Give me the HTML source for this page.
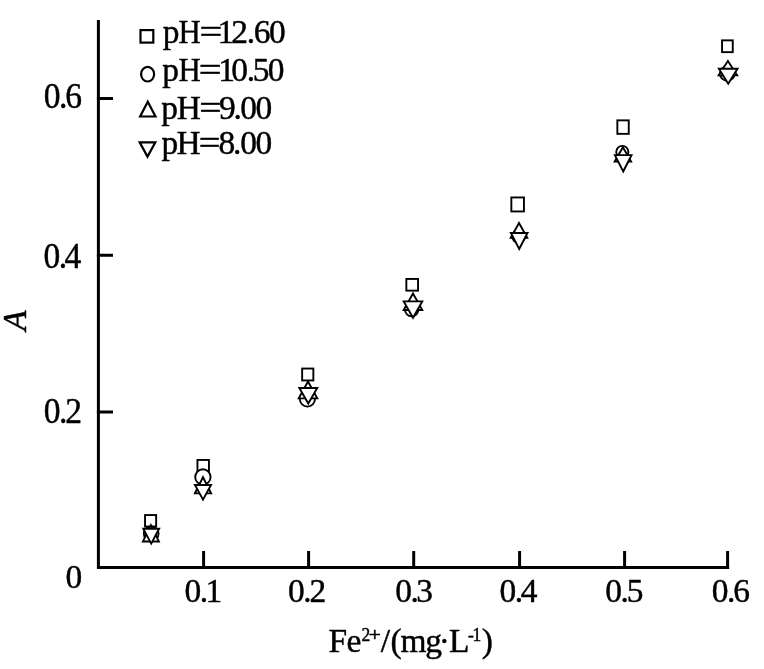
<!DOCTYPE html>
<html lang="en">
<head>
<meta charset="utf-8">
<title>A vs Fe2+ at different pH</title>
<style>
html,body{margin:0;padding:0;background:#fff;}
body{width:764px;height:669px;overflow:hidden;font-family:"Liberation Serif", serif;}
svg{display:block;}
</style>
</head>
<body>
<svg width="764" height="669" viewBox="0 0 764 669">
<rect width="764" height="669" fill="#fff"/>
<path d="M98.4 20V567.4H729.1" fill="none" stroke="#000" stroke-width="3"/>
<path d="M203.6 551V568.9M308.6 551V568.9M413.7 551V568.9M519.6 551V568.9M624.6 551V568.9M727.6 551V568.9M96.9 98.4H113M96.9 255.2H113M96.9 412.0H113" fill="none" stroke="#000" stroke-width="3"/>
<g transform="scale(0.97,1)" font-family='"Liberation Serif", serif' font-size="34.5" fill="#000" stroke="#000" stroke-width="0.45">
<text x="190.34 206.01 211.88" y="601.9">0.1</text>
<text x="297.04 312.71 319.2" y="601.9">0.2</text>
<text x="407.55 423.22 429.1" y="601.9">0.3</text>
<text x="515.08 530.75 536.83" y="601.9">0.4</text>
<text x="624.05 639.72 646.21" y="601.9">0.5</text>
<text x="733.84 749.51 756.01" y="601.9">0.6</text>
<text x="46.02 62.13 68.76" y="108.2" font-size="35.3" transform="scale(0.97938,1)">0.6</text>
<text x="45.71 61.81 68.02" y="268.3" font-size="35.3" transform="scale(0.97938,1)">0.4</text>
<text x="46.02 62.13 68.76" y="423" font-size="35.3" transform="scale(0.97938,1)">0.2</text>
<text x="67.45" y="587.9">0</text>
<text y="43"><tspan x="167.69">p</tspan><tspan x="184.14" textLength="22.92" lengthAdjust="spacingAndGlyphs">H</tspan><tspan x="205.76" textLength="23.54" lengthAdjust="spacingAndGlyphs">=</tspan><tspan x="224.29 238.48 254.43 261.71 277.45">12.60</tspan></text>
<text y="80.8"><tspan x="167.38">p</tspan><tspan x="184.03" textLength="22.92" lengthAdjust="spacingAndGlyphs">H</tspan><tspan x="205.03" textLength="23.54" lengthAdjust="spacingAndGlyphs">=</tspan><tspan x="224.91 238.38 254.32 260.47 276.01">10.50</tspan></text>
<text y="118.7"><tspan x="166.35 182.2">pH</tspan><tspan x="205.5" textLength="22.96" lengthAdjust="spacingAndGlyphs">=</tspan><tspan x="225.69 240.61 247.66 263.33">9.00</tspan></text>
<text y="154"><tspan x="166.45 182.1">pH</tspan><tspan x="205.03" textLength="22.38" lengthAdjust="spacingAndGlyphs">=</tspan><tspan x="225.18 240.1 247.66 263.33">8.00</tspan></text>
<text transform="scale(1.03093,1) translate(26.3,320.5) rotate(-90) scale(0.97,1)" text-anchor="middle" font-style="italic" x="0" y="0">A</text>
<text y="652.3"><tspan x="338.59 357.11">Fe</tspan><tspan font-size="18.0" y="640.9" x="372.61">2</tspan><tspan font-size="18.0" y="640.9" x="380" textLength="12.79" lengthAdjust="spacingAndGlyphs">+</tspan><tspan y="652.3" x="392.47 402.5 412.99 438.52 452.27 462.92">/(mg·L</tspan><tspan font-size="18.0" y="640.9" x="482.42 487.1">-1</tspan><tspan y="652.3" x="496.62">)</tspan></text>
</g>
<g fill="#fff" stroke="#000" stroke-width="1.9">
<g stroke-width="2.2">
<rect x="140.5" y="30.1" width="12.8" height="12.5"/>
<ellipse cx="147.6" cy="74.2" rx="6.5" ry="7.3"/>
<path d="M147.8 101.69L155.49 116.5H140.11Z"/>
<path d="M147.5 156.61L155.34 142.3H139.66Z"/>
</g>
<rect x="145.05" y="515.05" width="11.1" height="11.5"/>
<ellipse cx="151.2" cy="533.8" rx="7.35" ry="7.35"/>
<path d="M150.9 525.25L158.87 541.45H142.93Z"/>
<path d="M151.2 543.58L159.12 528.75H143.28Z"/>
<rect x="197.45" y="459.95" width="11.5" height="11.5"/>
<ellipse cx="202.9" cy="477" rx="7.7" ry="7.7"/>
<path d="M203 477.22L211.11 493.35H194.89Z"/>
<path d="M203 499.62L211.05 484.95H194.95Z"/>
<rect x="302.15" y="368.55" width="11.2" height="11.9"/>
<ellipse cx="307.4" cy="399.1" rx="7.55" ry="7.55"/>
<path d="M308 381.56L317.29 398.35H298.71Z"/>
<path d="M308.3 403.59L317.26 387.95H299.34Z"/>
<rect x="406.35" y="278.95" width="11.7" height="11.7"/>
<ellipse cx="411.7" cy="309.6" rx="6.75" ry="6.75"/>
<path d="M413 293.54L422.28 310.05H403.72Z"/>
<path d="M413 317.77L422.27 301.35H403.73Z"/>
<rect x="511.35" y="197.45" width="12.6" height="14"/>
<ellipse cx="518.6" cy="236.5" rx="6.35" ry="6.35"/>
<path d="M519 222.95L527.23 237.75H510.77Z"/>
<path d="M519.2 248.94L527.48 233.05H510.92Z"/>
<rect x="617.35" y="120.35" width="11.4" height="13.5"/>
<ellipse cx="622.3" cy="151.9" rx="6.05" ry="6.05"/>
<path d="M622.9 147.21L631.11 161.55H614.69Z"/>
<path d="M623.2 171.5L631.5 155.15H614.9Z"/>
<rect x="722.05" y="40.35" width="10.7" height="11.8"/>
<ellipse cx="727.3" cy="73.5" rx="7.35" ry="7.35"/>
<path d="M727.9 60.96L737.16 75.35H718.64Z"/>
<path d="M728.2 83.7L737.49 68.75H718.91Z"/>
</g>
</svg>
</body>
</html>
